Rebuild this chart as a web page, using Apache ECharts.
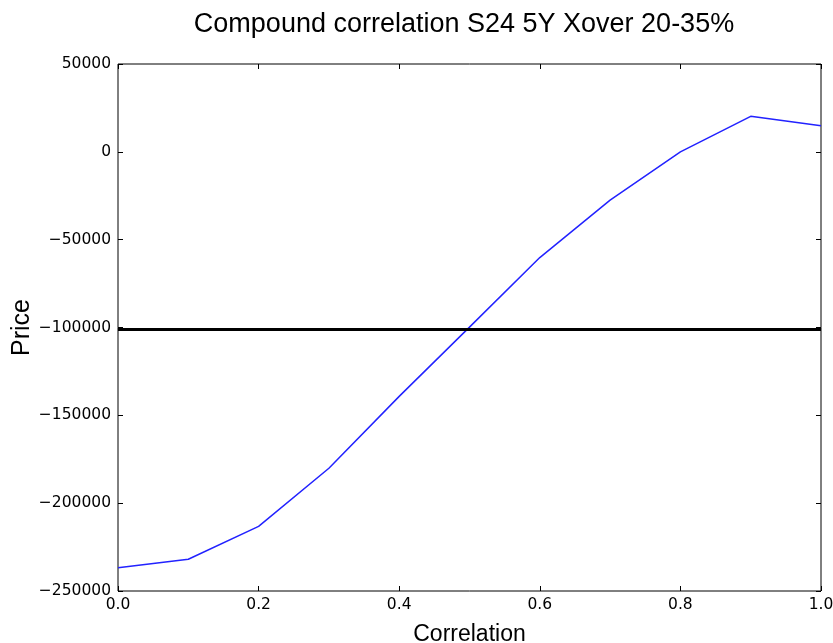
<!DOCTYPE html>
<html>
<head>
<meta charset="utf-8">
<script src="https://cdn.jsdelivr.net/npm/echarts@6/dist/echarts.min.js"></script>
<style>
  html, body { margin: 0; padding: 0; background: #fff; }
  #main { width: 833px; height: 643px; }
</style>
</head>
<body>
<div id="main"></div>
<script>
var correlation = [0.0, 0.1, 0.2, 0.3, 0.4, 0.5, 0.6, 0.7, 0.8, 0.9, 1.0];
var price = [-236700, -231900, -213200, -180100, -139200, -99800, -60200, -27500, 0, 20200, 14900];
var marketPrice = -101000;

var chartDom = document.getElementById('main');
var myChart = echarts.init(chartDom);
var option;

function minusFmt(v) {
    return String(v).replace('-', '\u2212');
}

var tickStyle = { inside: true, length: 5, lineStyle: { color: '#000', width: 1 } };
var labelFont = { color: '#000', fontSize: 15.5, fontFamily: 'DejaVu Sans' };

option = {
    animation: false,
    title: {
        text: 'Compound correlation S24 5Y Xover 20-35%',
        left: 459,
        top: 6,
        textAlign: 'center',
        textStyle: { color: '#000', fontSize: 27, fontWeight: 'normal', fontFamily: 'Liberation Sans' }
    },
    grid: {
        left: 118,
        right: 12,
        top: 64,
        bottom: 52,
        outerBoundsMode: 'none',
        containLabel: false,
        show: true,
        borderColor: '#000',
        borderWidth: 1
    },
    xAxis: [{
        type: 'value',
        min: 0,
        max: 1,
        interval: 0.2,
        name: 'Correlation',
        nameLocation: 'middle',
        nameGap: 32,
        nameMoveOverlap: false,
        nameTextStyle: { color: '#000', fontSize: 23, fontFamily: 'Liberation Sans' },
        axisLine: { show: false, onZero: false },
        axisTick: tickStyle,
        splitLine: { show: false },
        axisLabel: Object.assign({ margin: 6, formatter: function (v) { return v.toFixed(1); } }, labelFont)
    }, {
        type: 'value',
        position: 'top',
        min: 0,
        max: 1,
        interval: 0.2,
        axisLine: { show: false, onZero: false },
        axisTick: tickStyle,
        splitLine: { show: false },
        axisLabel: { show: false }
    }],
    yAxis: [{
        type: 'value',
        min: -250000,
        max: 50000,
        interval: 50000,
        name: 'Price',
        nameLocation: 'middle',
        nameGap: 83,
        nameMoveOverlap: false,
        nameTextStyle: { color: '#000', fontSize: 25, fontFamily: 'Liberation Sans' },
        axisLine: { show: false, onZero: false },
        axisTick: tickStyle,
        splitLine: { show: false },
        axisLabel: Object.assign({ margin: 7, formatter: minusFmt }, labelFont)
    }, {
        type: 'value',
        position: 'right',
        min: -250000,
        max: 50000,
        interval: 50000,
        axisLine: { show: false, onZero: false },
        axisTick: tickStyle,
        splitLine: { show: false },
        axisLabel: { show: false }
    }],
    series: [{
        type: 'line',
        data: correlation.map(function (c, i) { return [c, price[i]]; }),
        showSymbol: false,
        lineStyle: { color: '#2222ff', width: 1.5 },
        markLine: {
            silent: true,
            symbol: 'none',
            label: { show: false },
            lineStyle: { color: '#000', width: 3, type: 'solid' },
            data: [{ yAxis: marketPrice }]
        }
    }]
};

option && myChart.setOption(option);
</script>
</body>
</html>
